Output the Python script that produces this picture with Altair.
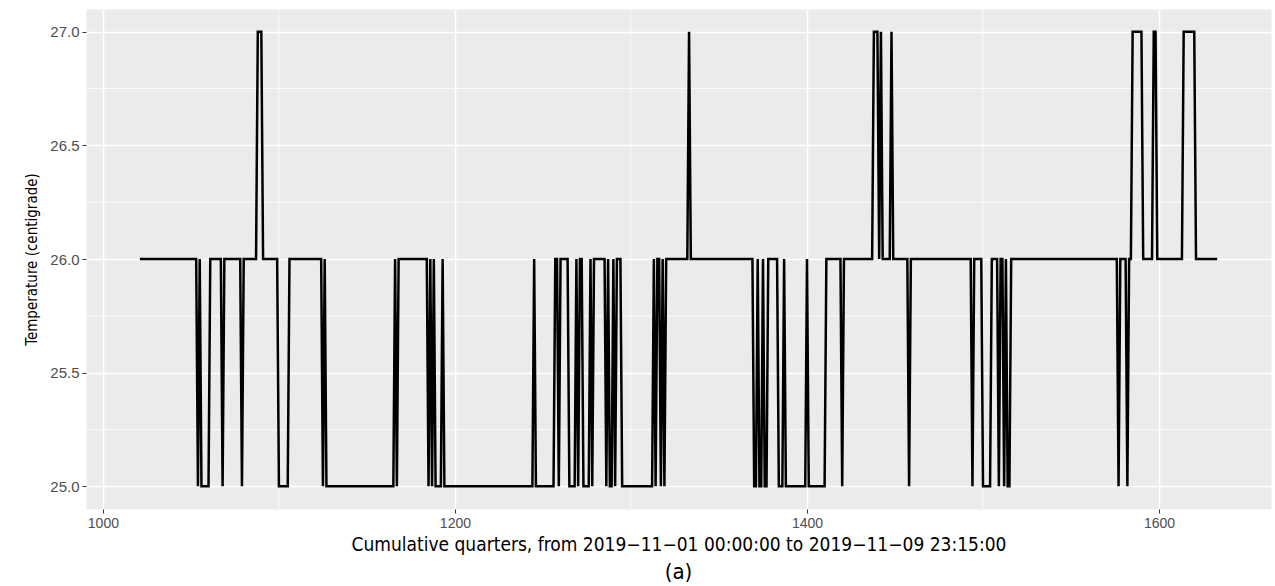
import altair as alt
import pandas as pd

# quarter at which the temperature changes, and the level from that quarter on
change_quarter = [1021, 1054, 1055, 1056, 1061, 1068, 1069, 1079, 1080, 1088, 1091,
                  1100, 1106, 1125, 1126, 1127, 1166, 1167, 1168, 1185, 1186, 1187,
                  1188, 1189, 1193, 1194, 1245, 1246, 1257, 1259, 1260, 1265, 1269,
                  1270, 1271, 1273, 1277, 1278, 1279, 1286, 1287, 1288, 1290, 1291,
                  1292, 1295, 1313, 1314, 1315, 1317, 1318, 1319, 1320, 1333, 1334,
                  1370, 1372, 1373, 1375, 1376, 1378, 1384, 1387, 1388, 1400, 1401,
                  1411, 1420, 1421, 1438, 1441, 1442, 1443, 1448, 1449, 1458, 1459,
                  1494, 1495, 1500, 1505, 1509, 1510, 1512, 1513, 1514, 1516, 1577,
                  1578, 1582, 1583, 1585, 1591, 1597, 1599, 1614, 1621]
level = [26, 25, 26, 25, 26, 25, 26, 25, 26, 27, 26,
         25, 26, 25, 26, 25, 26, 25, 26, 25, 26, 25,
         26, 25, 26, 25, 26, 25, 26, 25, 26, 25, 26,
         25, 26, 25, 26, 25, 26, 25, 26, 25, 26, 25,
         26, 25, 26, 25, 26, 25, 26, 25, 26, 27, 26,
         25, 26, 25, 26, 25, 26, 25, 26, 25, 26, 25,
         26, 25, 26, 27, 26, 27, 26, 27, 26, 25, 26,
         25, 26, 25, 26, 25, 26, 25, 26, 25, 26, 25,
         26, 25, 26, 27, 26, 27, 26, 27, 26]
last_quarter = 1633

x_ticks = [1000, 1200, 1400, 1600]
x_minor = [1100, 1300, 1500]
y_ticks = [25.0, 25.5, 26.0, 26.5, 27.0]
y_minor = [25.25, 25.75, 26.25, 26.75]

# one row per quarter (level held until the next change)
rows = []
for i, q0 in enumerate(change_quarter):
    q1 = change_quarter[i + 1] if i + 1 < len(change_quarter) else last_quarter + 1
    for q in range(q0, q1):
        rows.append({"quarter": q, "temp": level[i]})
df = pd.DataFrame(rows)

NARROW = "DejaVu Sans Condensed, Liberation Sans Narrow, Roboto Condensed, Liberation Sans, sans-serif"

xscale = alt.Scale(domain=[990.4, 1663.6], nice=False, zero=False)
yscale = alt.Scale(domain=[24.9, 27.1], nice=False, zero=False)

xaxis = alt.Axis(values=x_ticks, format="d",
                 title="Cumulative quarters, from 2019\u221211\u221201 00:00:00 to 2019\u221211\u221209 23:15:00",
                 grid=True, gridColor="white", gridWidth=1.5, domain=False,
                 tickColor="#333333", tickSize=4, tickWidth=1,
                 labelColor="#4D4D4D", labelFont="Liberation Sans", labelFontSize=14,
                 labelPadding=3, titleFont=NARROW, titleFontSize=19,
                 titleFontWeight="normal", titleColor="black", titlePadding=5)
yaxis = alt.Axis(values=y_ticks, format=".1f", title="Temperature (centigrade)",
                 grid=True, gridColor="white", gridWidth=1.5, domain=False,
                 tickColor="#333333", tickSize=4, tickWidth=1,
                 labelColor="#4D4D4D", labelFont="Liberation Sans", labelFontSize=15,
                 labelPadding=3, titleFont=NARROW, titleFontSize=15,
                 titleFontWeight="normal", titleColor="black", titlePadding=10)

vgrid = alt.Chart(pd.DataFrame({"q": x_minor})).mark_rule(
    color="white", strokeWidth=0.8).encode(x=alt.X("q:Q", scale=xscale, axis=xaxis))
hgrid = alt.Chart(pd.DataFrame({"t": y_minor})).mark_rule(
    color="white", strokeWidth=0.8).encode(y=alt.Y("t:Q", scale=yscale, axis=yaxis))
line = alt.Chart(df).mark_line(color="black", strokeWidth=2.5).encode(
    x=alt.X("quarter:Q", scale=xscale, axis=xaxis),
    y=alt.Y("temp:Q", scale=yscale, axis=yaxis),
)

chart = alt.layer(vgrid, hgrid, line).properties(
    width=1185, height=500,
    autosize=alt.AutoSizeParams(type="none"),
    padding={"left": 86, "top": 9, "right": 4, "bottom": 77},
    background="white",
    title=alt.TitleParams("(a)", orient="bottom", font=NARROW,
                          fontSize=22, fontWeight="normal", color="black", offset=8),
).configure_view(fill="#EBEBEB", stroke="transparent")

chart.save("out.html", embed_options={"renderer": "svg", "actions": False})
